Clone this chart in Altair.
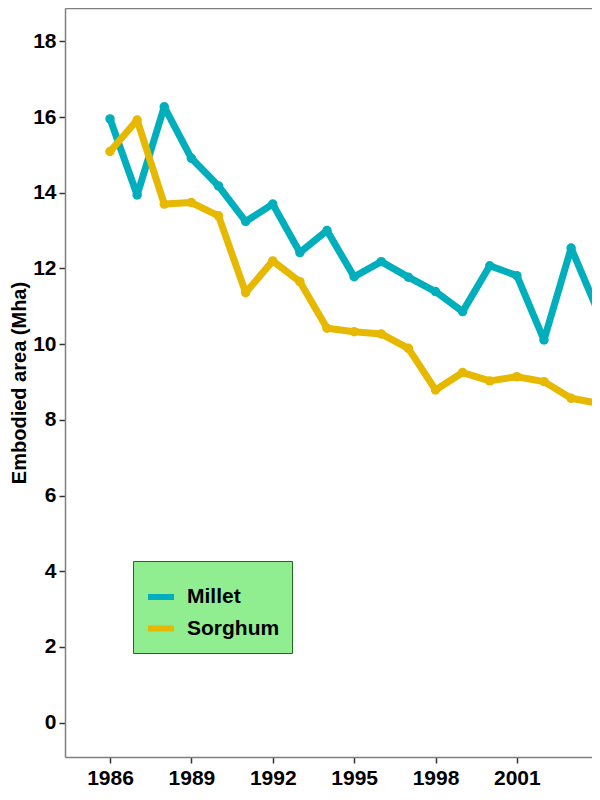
import altair as alt
import pandas as pd

years = list(range(1986, 2005))
millet = [15.95, 13.94, 16.27, 14.91, 14.18, 13.24, 13.70, 12.42, 13.00, 11.78,
          12.18, 11.77, 11.39, 10.86, 12.07, 11.81, 10.11, 12.54, 10.85]
sorghum = [15.09, 15.92, 13.70, 13.74, 13.39, 11.36, 12.20, 11.65, 10.42, 10.33,
           10.27, 9.89, 8.79, 9.25, 9.03, 9.14, 9.01, 8.57, 8.44]
crops = ["Millet", "Sorghum"]
colors = ["#00AFBB", "#E7B800"]
x_ticks = [1986, 1989, 1992, 1995, 1998, 2001, 2004]
y_ticks = [0, 2, 4, 6, 8, 10, 12, 14, 16, 18]
y_title = "Embodied area (Mha)"

rows = []
for name, series in zip(crops, [millet, sorghum]):
    for yr, v in zip(years, series):
        rows.append({"year": yr, "value": v, "crop": name})
df = pd.DataFrame(rows)

FONT = "Liberation Sans"
x_scale = alt.Scale(domain=[1984.34, 2003.77], nice=False, zero=False)
y_scale = alt.Scale(domain=[-0.906, 18.88], nice=False, zero=False)

y_axis = alt.Axis(values=y_ticks, title=y_title, titleFont=FONT, titleFontSize=20,
                  titleFontWeight="bold", titleColor="black", titlePadding=3,
                  labelFont=FONT, labelFontSize=21, labelFontWeight="bold",
                  labelColor="black", labelPadding=3, tickSize=6, grid=False)
x_axis = alt.Axis(values=x_ticks, format="d", title=None, labelFont=FONT,
                  labelFontSize=21, labelFontWeight="bold", labelColor="black",
                  labelPadding=4, tickSize=6, grid=False, labelFlush=False,
                  labelOverlap=False)

legend = alt.Legend(orient="none", legendX=68, legendY=553, title=" ",
                    titleFontSize=6, titlePadding=2, fillColor="#90EE90",
                    strokeColor="#1E6B1E", padding=12, symbolType="stroke",
                    symbolSize=676, symbolStrokeWidth=6, labelFont=FONT,
                    labelFontSize=21, labelFontWeight="bold", labelColor="black",
                    labelOffset=10, rowPadding=3.5)

lines = alt.Chart(df).mark_line(
    strokeWidth=7, strokeCap="round", strokeJoin="round", clip=True,
    point=alt.OverlayMarkDef(size=90, filled=True, opacity=1, clip=True)
).encode(
    x=alt.X("year:Q", scale=x_scale, axis=x_axis),
    y=alt.Y("value:Q", scale=y_scale, axis=y_axis),
    color=alt.Color("crop:N", scale=alt.Scale(domain=crops, range=colors),
                    legend=legend),
)

top = alt.Chart(df).mark_point(opacity=0, clip=True).encode(
    x=alt.X("year:Q", scale=x_scale,
            axis=alt.Axis(orient="top", labels=False, ticks=False, title=None,
                          grid=False)),
    y=alt.Y("value:Q", scale=y_scale, axis=y_axis),
)

chart = alt.layer(lines, top).resolve_axis(x="independent").properties(
    width=527, height=749,
    autosize=alt.AutoSizeParams(type="none"),
    padding={"left": 57, "top": 0, "right": 0, "bottom": 35},
    background="white",
).configure_view(strokeOpacity=0).configure_axis(
    domainColor="#7f7f7f", domainWidth=1.5, tickColor="#333333", tickWidth=1.5
)

chart.save("out.html", embed_options={"renderer": "svg", "actions": False})
